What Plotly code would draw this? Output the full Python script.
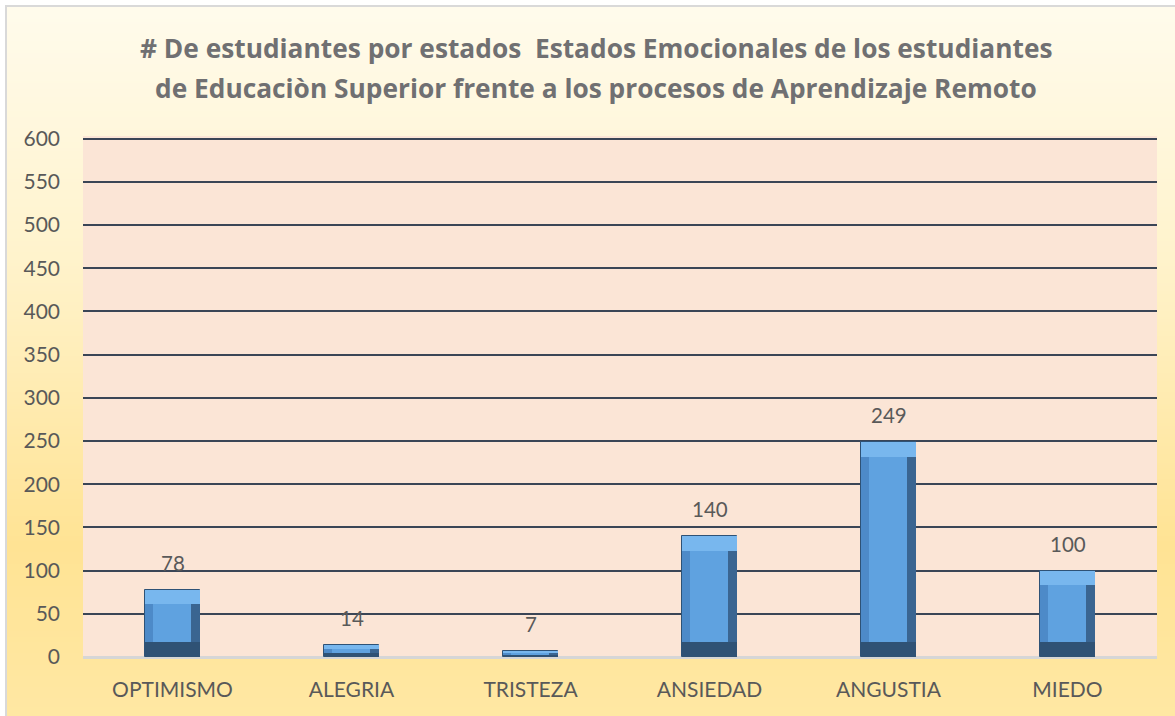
import base64, struct, zlib
import plotly.graph_objects as go

categories = ["OPTIMISMO", "ALEGRIA", "TRISTEZA", "ANSIEDAD", "ANGUSTIA", "MIEDO"]
values = [78, 14, 7, 140, 249, 100]
y_ticks = list(range(0, 601, 50))
title_lines = [
    "# De estudiantes por estados  Estados Emocionales de los estudiantes",
    "de Educaciòn Superior frente a los procesos de Aprendizaje Remoto",
]

# ---------- gradient background image (generated PNG) ----------
def hex2rgb(h):
    h = h.lstrip("#")
    return tuple(int(h[i:i + 2], 16) for i in (0, 2, 4))

def gradient_png(stops, height=256):
    rows = b""
    for i in range(height):
        t = i / (height - 1)
        for j in range(len(stops) - 1):
            t0, c0 = stops[j]
            t1, c1 = stops[j + 1]
            if t0 <= t <= t1:
                f = (t - t0) / (t1 - t0) if t1 > t0 else 0
                a, b = hex2rgb(c0), hex2rgb(c1)
                rgb = tuple(int(round(a[k] + (b[k] - a[k]) * f)) for k in range(3))
                break
        rows += b"\x00" + bytes(rgb)

    def chunk(tag, data):
        c = struct.pack(">I", len(data)) + tag + data
        return c + struct.pack(">I", zlib.crc32(tag + data) & 0xFFFFFFFF)

    png = b"\x89PNG\r\n\x1a\n"
    png += chunk(b"IHDR", struct.pack(">IIBBBBB", 1, height, 8, 2, 0, 0, 0))
    png += chunk(b"IDAT", zlib.compress(rows))
    png += chunk(b"IEND", b"")
    return "data:image/png;base64," + base64.b64encode(png).decode()

bg_src = gradient_png([(0.0, "#FFFBEC"), (0.35, "#FFF3CC"), (0.75, "#FFE394"), (1.0, "#FFE8A4")])

W, H = 1175, 716
ml, mr, mt, mb = 83, 18, 136, 59
pw, ph = W - ml - mr, H - mt - mb
y_max = 603.0

def px2x(px):
    return (px - ml) / pw

def py2y(py):
    return (H - mb - py) / ph

# ---------- bevelled bars ----------
bw = 0.31
s_l = 0.045
s_r = 0.052
bev = 17.0
bev_h = [min(bev, v / 3.0) for v in values]

fig = go.Figure()
common = dict(x=categories, hoverinfo="skip", showlegend=False)
# body / left bevel
fig.add_trace(go.Bar(y=values, width=bw, offset=-bw / 2,
                     marker=dict(color="#4D8AC8", line=dict(color="#2E5276", width=1)), **common))
# right bevel
fig.add_trace(go.Bar(y=values, width=s_r, offset=bw / 2 - s_r - 0.002,
                     marker=dict(color="#3A6591", line=dict(width=0)), **common))
# bottom bevel
fig.add_trace(go.Bar(y=bev_h, base=[0.4] * len(values), width=bw - 0.006, offset=-bw / 2 + 0.003,
                     marker=dict(color="#2F5275", line=dict(width=0)), **common))
# top bevel
fig.add_trace(go.Bar(y=bev_h, base=[v - b for v, b in zip(values, bev_h)], width=bw - 0.006,
                     offset=-bw / 2 + 0.003, marker=dict(color="#78B7EE", line=dict(width=0)), **common))
# face
fig.add_trace(go.Bar(y=[v - 2 * b for v, b in zip(values, bev_h)], base=bev_h, width=bw - s_l - s_r,
                     offset=-bw / 2 + s_l, marker=dict(color="#5FA2E0", line=dict(width=0)), **common))

for c, v in zip(categories, values):
    fig.add_annotation(x=c, y=v, text=str(v), showarrow=False, yanchor="bottom", yshift=13,
                       font=dict(family="Lato, sans-serif", size=20.5, color="#595959"))

# title
for i, line in enumerate(title_lines):
    fig.add_annotation(xref="paper", yref="paper", x=px2x(596), y=py2y(48 + 40 * i),
                       text="<b>" + line + "</b>", showarrow=False, xanchor="center", yanchor="middle",
                       font=dict(family="Open Sans, sans-serif", size=26.3, color="#707072"))

fig.add_layout_image(dict(source=bg_src, xref="paper", yref="paper",
                          x=px2x(6), y=py2y(6), sizex=px2x(1185) - px2x(6), sizey=py2y(6) - py2y(725),
                          sizing="stretch", layer="below", xanchor="left", yanchor="top"))
fig.add_shape(type="rect", xref="paper", yref="paper", x0=px2x(6), y0=py2y(725), x1=px2x(1185), y1=py2y(6),
              line=dict(color="#D9D9D9", width=2), layer="below")
fig.add_shape(type="rect", xref="paper", yref="paper", x0=0, y0=0, x1=1, y1=1,
              fillcolor="#FBE5D6", line=dict(width=0), layer="below")

fig.update_layout(
    width=W, height=H,
    margin=dict(l=ml, r=mr, t=mt, b=mb, pad=0),
    paper_bgcolor="#FFFFFF",
    plot_bgcolor="#FBE5D6",
    barmode="overlay",
    bargap=0,
    font=dict(family="Lato, sans-serif", color="#595959"),
    xaxis=dict(type="category", categoryorder="array", categoryarray=categories,
               showgrid=False, showline=False, ticks="", ticklabelstandoff=18,
               tickfont=dict(size=21, color="#595959")),
    yaxis=dict(range=[0, y_max], tickvals=y_ticks, showgrid=True, gridcolor="#3A4556", gridwidth=2,
               zeroline=True, zerolinecolor="#D6D6D6", zerolinewidth=3, showline=False, ticks="",
               ticklabelstandoff=22, tickfont=dict(size=21, color="#595959")),
)

fig.write_html("out.html", post_script="document.body.style.margin='0';",
               config={"displayModeBar": False})
